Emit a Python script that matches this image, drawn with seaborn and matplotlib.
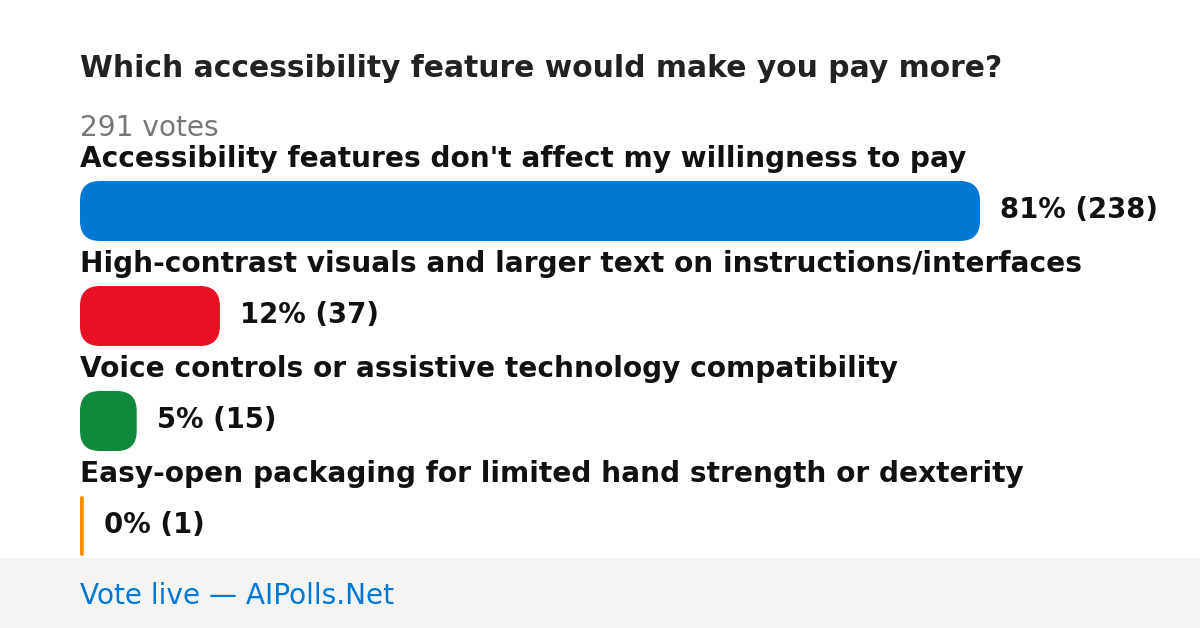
import matplotlib
matplotlib.use("Agg")
import matplotlib.pyplot as plt
import seaborn as sns
from matplotlib.patches import FancyBboxPatch, Rectangle

title = "Which accessibility feature would make you pay more?"
total_votes = 291
options = [
    "Accessibility features don't affect my willingness to pay",
    "High-contrast visuals and larger text on instructions/interfaces",
    "Voice controls or assistive technology compatibility",
    "Easy-open packaging for limited hand strength or dexterity",
]
counts = [238, 37, 15, 1]
percents = [81, 12, 5, 0]
colors = ["#0078d4", "#e81123", "#10893e", "#ff8c00"]
footer = "Vote live \u2014 AIPolls.Net"

plt.rcParams["font.family"] = ["DejaVu Sans"]

W, H = 1200, 628
fig = plt.figure(figsize=(W / 100, H / 100), dpi=100)
fig.patch.set_facecolor("white")
ax = fig.add_axes([0, 0, 1, 1])

sns.barplot(x=counts, y=options, hue=options, palette=colors, orient="h",
            width=60 / 105, legend=False, ax=ax, saturation=1)

# pixel mapping
left_px, bar_px = 80, 900
xpp = max(counts) / bar_px          # x units per pixel
ypp = 1 / 105                       # y units per pixel
y0_px = 211
ax.set_xlim(-left_px * xpp, (W - left_px) * xpp)
ax.set_ylim((H - y0_px) * ypp, -y0_px * ypp)
ax.axis("off")

aspect = ypp / xpp
for p in list(ax.patches):
    x, y, w, h = p.get_x(), p.get_y(), p.get_width(), p.get_height()
    fc = p.get_facecolor()
    p.remove()
    w = max(w, 3 * xpp)
    r = min(20 * xpp, w / 2)
    fb = FancyBboxPatch((x, y), w, h,
                        boxstyle=f"round,pad=0,rounding_size={r}",
                        mutation_aspect=aspect, facecolor=fc, edgecolor="none")
    ax.add_patch(fb)

FS_LABEL = 20.2
FS_VALUE = 19.8
FS_TEXT = 20.2
for i, (opt, c, pc) in enumerate(zip(options, counts, percents)):
    ax.text(0, i - (211 - 167) * ypp, opt, fontsize=FS_LABEL, fontweight="bold",
            color="#111111", va="baseline", ha="left")
    xe = max(c, 3 * xpp)
    ax.text(xe + 20 * xpp, i + (218 - 211) * ypp, f"{pc}% ({c})", fontsize=FS_VALUE,
            fontweight="bold", color="#111111", va="baseline", ha="left")

fig.text(80 / W, 1 - 77 / H, title, fontsize=21.4, fontweight="bold",
         color="#222222", va="baseline", ha="left")
fig.text(80 / W, 1 - 136 / H, f"{total_votes} votes", fontsize=FS_TEXT,
         color="#777777", va="baseline", ha="left")

fig.patches.append(Rectangle((0, 0), 1, 70 / H, transform=fig.transFigure,
                             facecolor="#f4f4f4", edgecolor="none", zorder=0.5))
fig.text(80 / W, 1 - 604 / H, footer, fontsize=FS_TEXT, color="#0078d4",
         va="baseline", ha="left")

fig.savefig("out.png", dpi=100, facecolor="white")
